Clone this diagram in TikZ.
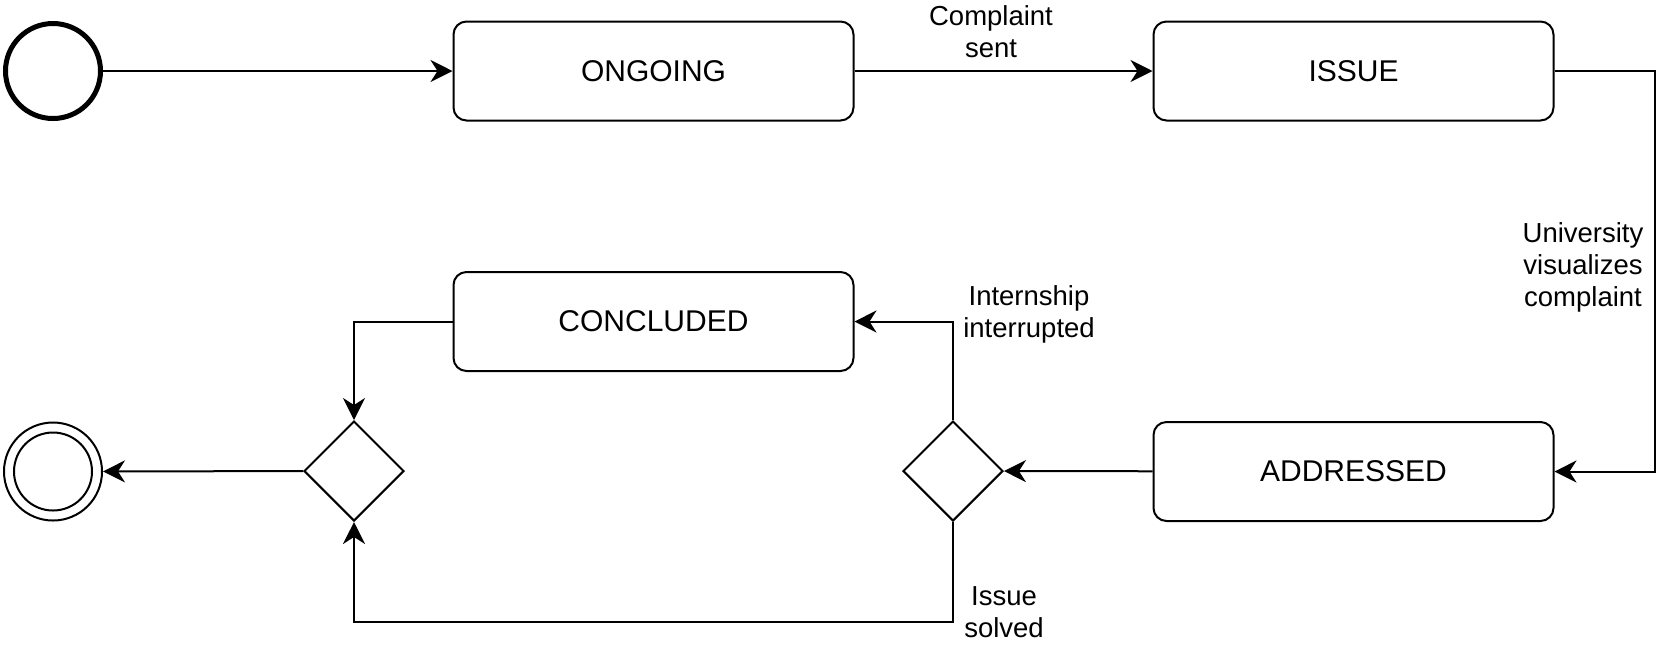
\documentclass[tikz,border=0pt]{standalone}
\usepackage{fontspec}
\setmainfont{Liberation Sans}
\usepackage{tikz}
\usetikzlibrary{arrows.meta, shapes.geometric}
\tikzset{
  st/.style={rectangle, rounded corners=6.5pt, draw=black, line width=1pt,
             minimum width=200pt, minimum height=49.5pt, inner sep=0pt,
             font=\fontsize{15}{18}\selectfont},
  dec/.style={diamond, draw=black, line width=1pt, minimum size=50pt, inner sep=0pt},
  ini/.style={circle, draw=black, line width=2.5pt, minimum size=47.5pt, inner sep=0pt},
  fin/.style={circle, draw=black, line width=1pt, minimum size=49pt, inner sep=0pt},
  lbl/.style={align=center, font=\fontsize{13.75}{16}\selectfont},
  e/.style={line width=1pt, -{Stealth[length=11pt, width=11pt, inset=3.5pt]}},
}
\begin{document}
\begin{tikzpicture}[x=0.5pt, y=-0.5pt]
  \useasboundingbox (0,0) rectangle (1675,645);
  \node[ini] (start) at (53,71) {};
  \node[st] (ongoing) at (653.5,71) {ONGOING};
  \node[st] (issue) at (1353.5,71) {ISSUE};
  \node[st] (addressed) at (1353.5,471.5) {ADDRESSED};
  \node[st] (concluded) at (653.5,321.5) {CONCLUDED};
  \node[dec] (dec2) at (953,471) {};
  \node[dec] (dec1) at (354,471) {};
  \node[fin] (stop) at (53,471.5) {};
  \draw[line width=1pt] (stop.center) circle[radius=19.5pt];
  \draw[e] (start) -- (ongoing);
  \draw[e] (ongoing) -- (issue);
  \draw[e] (issue.east) -- ++(100,0) |- (addressed.east);
  \draw[e] (addressed) -- (dec2);
  \draw[e] (dec2.north) |- (concluded.east);
  \draw[e] (dec2.south) -- ++(0,100) -| (dec1.south);
  \draw[e] (concluded.west) -| (dec1.north);
  \draw[e] (dec1) -- (stop);
  \node[lbl] (lsent) at (991,32) {Complaint\\sent};
  \node[lbl] (lvis) at (1583,267) {University\\visualizes\\complaint};
  \node[lbl] (lint) at (1029,314) {Internship\\interrupted};
  \node[lbl] (lsol) at (1004,612) {Issue\\solved};
\end{tikzpicture}
\end{document}
